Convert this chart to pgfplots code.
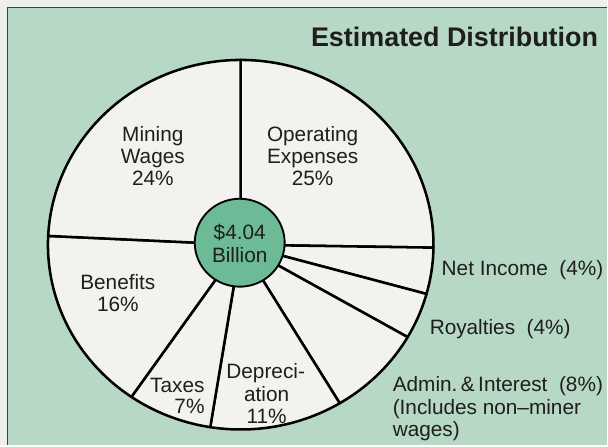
\documentclass[border=0pt]{standalone}
\usepackage{pgfplots}
\pgfplotsset{compat=1.18}
\usepackage{pgfplotstable}
\usepackage{fontspec}
\setmainfont{Liberation Sans}
\definecolor{outerbg}{RGB}{238,238,234}
\definecolor{panelgreen}{RGB}{183,216,197}
\definecolor{centergreen}{RGB}{108,186,150}
\definecolor{piewhite}{RGB}{242,242,238}
\definecolor{ink}{RGB}{30,30,30}
\tikzset{lbl/.style={font=\fontsize{15.6pt}{17pt}\selectfont, text=ink, inner sep=0pt}}

\pgfplotstableread{
item pct
OperatingExpenses 25
NetIncome 4
Royalties 4
AdminInterest 8
Depreciation 11
Taxes 7
Benefits 16
MiningWages 24
}\piedata

\begin{document}
\begin{tikzpicture}
\begin{axis}[
  width=456pt, height=334.5pt, scale only axis,
  xmin=0, xmax=608, ymin=0, ymax=446, y dir=reverse,
  hide axis, clip=false,
]
% background
\fill[outerbg] (axis cs:0,0) rectangle (axis cs:608,446);
\fill[panelgreen] (axis cs:8,7.5) rectangle (axis cs:608,446);
\draw[black!75, line width=1.1pt] (axis cs:7.5,446) -- (axis cs:7.5,7.5) -- (axis cs:608,7.5);

% sum of shares
\def\total{0}
\pgfplotsforeachungrouped \i in {0,...,7}{%
  \pgfplotstablegetelem{\i}{pct}\of\piedata
  \pgfmathsetmacro\total{\total+\pgfplotsretval}%
}
% slices, clockwise from the top
\def\cum{90}
\pgfplotsforeachungrouped \i in {0,...,7}{%
  \pgfplotstablegetelem{\i}{pct}\of\piedata
  \pgfmathsetmacro\endang{\cum-\pgfplotsretval*360/\total}%
  \edef\tmp{\noexpand\addplot[fill=piewhite, draw=black, line width=1.9pt, line join=round,
     domain=\endang:\cum, samples=60, variable=\noexpand\t]
     ({241+193*cos(\noexpand\t)},{245-185*sin(\noexpand\t)}) -- (axis cs:241,245) -- cycle;}%
  \tmp
  \let\cum\endang
}
% centre disc
\addplot[fill=centergreen, draw=black, line width=1.4pt, domain=0:360, samples=80, variable=\t]
  ({240+45*cos(\t)},{243-44*sin(\t)}) -- cycle;

% title
\node[anchor=base east, inner sep=0pt, font=\fontsize{20.2pt}{23pt}\selectfont\bfseries, text=ink]
  at (axis cs:599,46.5) {Estimated Distribution};

% centre text
\node[lbl, anchor=base] at (axis cs:240,240) {\$4.04};
\node[lbl, anchor=base] at (axis cs:240,263) {Billion};

% slice labels
\node[lbl, anchor=base] at (axis cs:153,142) {Mining};
\node[lbl, anchor=base] at (axis cs:153,164) {Wages};
\node[lbl, anchor=base] at (axis cs:153,186) {24\%};
\node[lbl, anchor=base] at (axis cs:313,142) {Operating};
\node[lbl, anchor=base] at (axis cs:313,164) {Expenses};
\node[lbl, anchor=base] at (axis cs:313,186) {25\%};
\node[lbl, anchor=base] at (axis cs:118,290) {Benefits};
\node[lbl, anchor=base] at (axis cs:118,312) {16\%};
\node[lbl, anchor=base east] at (axis cs:205,393) {Taxes};
\node[lbl, anchor=base east] at (axis cs:205,414) {7\%};
\node[lbl, anchor=base] at (axis cs:266,379) {Depreci-};
\node[lbl, anchor=base] at (axis cs:267,402) {ation};
\node[lbl, anchor=base] at (axis cs:267,424) {11\%};

% outside labels
\node[lbl, anchor=base west] at (axis cs:442,276) {Net Income\ \ (4\%)};
\node[lbl, anchor=base west] at (axis cs:430,335) {Royalties\ \ (4\%)};
\node[lbl, anchor=base west] at (axis cs:393,392) {Admin.\,\&\,Interest\ \ (8\%)};
\node[lbl, anchor=base west] at (axis cs:393,415) {(Includes non--miner};
\node[lbl, anchor=base west] at (axis cs:393,437) {wages)};
\end{axis}
\end{tikzpicture}
\end{document}
